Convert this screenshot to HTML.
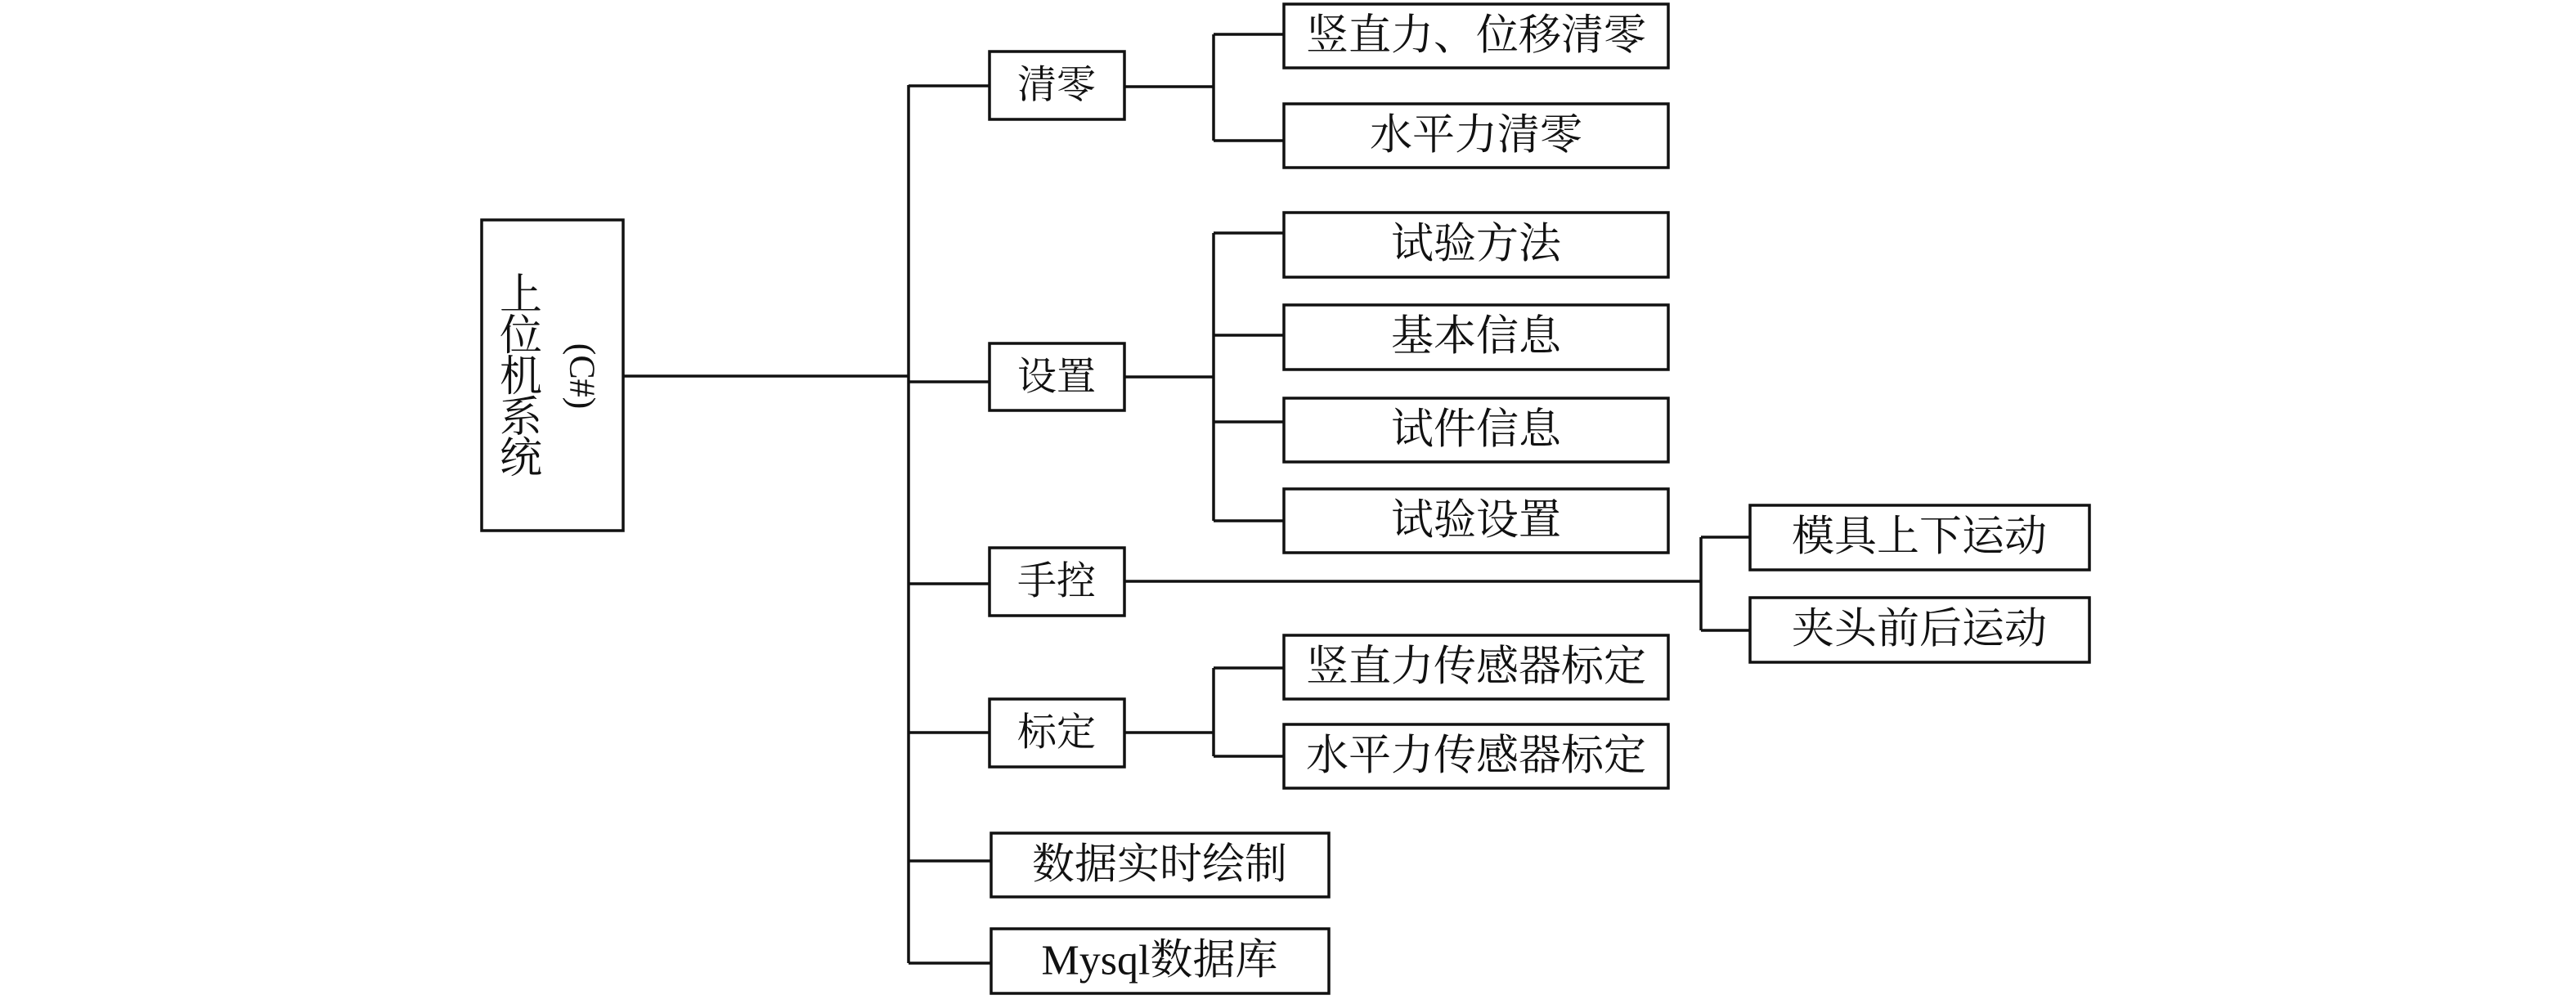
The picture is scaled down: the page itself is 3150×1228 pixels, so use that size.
<!DOCTYPE html>
<html><head><meta charset="utf-8"><style>
html,body{margin:0;padding:0;background:#fff;}
svg{display:block;}
text{font-family:"Liberation Serif","Noto Serif CJK SC",serif;font-size:52px;fill:#111;}
</style></head><body>
<svg width="3150" height="1228" viewBox="0 0 3150 1228" xmlns="http://www.w3.org/2000/svg">
<g fill="none" stroke="#111" stroke-width="3.5">
<rect x="589" y="269" width="173" height="380"/>
<line x1="762" y1="460" x2="1111" y2="460"/>
<line x1="1111" y1="104" x2="1111" y2="1178"/>
<rect x="1210" y="63" width="165" height="83"/>
<rect x="1210" y="420" width="165" height="82"/>
<rect x="1210" y="670" width="165" height="83"/>
<rect x="1210" y="855" width="165" height="83"/>
<rect x="1212" y="1019" width="413" height="78"/>
<rect x="1212" y="1136" width="413" height="79"/>
<line x1="1111" y1="105" x2="1210" y2="105"/>
<line x1="1111" y1="467" x2="1210" y2="467"/>
<line x1="1111" y1="714" x2="1210" y2="714"/>
<line x1="1111" y1="896" x2="1210" y2="896"/>
<line x1="1111" y1="1053" x2="1212" y2="1053"/>
<line x1="1111" y1="1178" x2="1212" y2="1178"/>
<line x1="1375" y1="106" x2="1484" y2="106"/>
<line x1="1484" y1="42" x2="1484" y2="172"/>
<line x1="1484" y1="42" x2="1570" y2="42"/>
<line x1="1484" y1="172" x2="1570" y2="172"/>
<rect x="1570" y="5" width="470" height="78"/>
<rect x="1570" y="127" width="470" height="78"/>
<line x1="1375" y1="461" x2="1484" y2="461"/>
<line x1="1484" y1="285" x2="1484" y2="637"/>
<line x1="1484" y1="285" x2="1570" y2="285"/>
<line x1="1484" y1="410" x2="1570" y2="410"/>
<line x1="1484" y1="516" x2="1570" y2="516"/>
<line x1="1484" y1="637" x2="1570" y2="637"/>
<rect x="1570" y="260" width="470" height="79"/>
<rect x="1570" y="373" width="470" height="79"/>
<rect x="1570" y="487" width="470" height="78"/>
<rect x="1570" y="598" width="470" height="78"/>
<line x1="1375" y1="711" x2="2080" y2="711"/>
<line x1="2080" y1="657" x2="2080" y2="771"/>
<line x1="2080" y1="657" x2="2140" y2="657"/>
<line x1="2080" y1="771" x2="2140" y2="771"/>
<rect x="2140" y="618" width="415" height="79"/>
<rect x="2140" y="731" width="415" height="79"/>
<line x1="1375" y1="896" x2="1484" y2="896"/>
<line x1="1484" y1="817" x2="1484" y2="925"/>
<line x1="1484" y1="817" x2="1570" y2="817"/>
<line x1="1484" y1="925" x2="1570" y2="925"/>
<rect x="1570" y="777" width="470" height="78"/>
<rect x="1570" y="886" width="470" height="78"/>
</g>
<g text-anchor="middle" style="font-size:50px">
<text x="637" y="378">上</text>
<text x="637" y="428">位</text>
<text x="637" y="478">机</text>
<text x="637" y="528">系</text>
<text x="637" y="578">统</text>
</g>
<text x="712" y="460" text-anchor="middle" dominant-baseline="central" transform="rotate(90 712 460)" style="font-size:44px">(C#)</text>
<g text-anchor="middle" dominant-baseline="central">
<text x="1292" y="104" style="font-size:48px">清零</text>
<text x="1292" y="461" style="font-size:48px">设置</text>
<text x="1292" y="711" style="font-size:48px">手控</text>
<text x="1292" y="896" style="font-size:48px">标定</text>
<text x="1418" y="1058">数据实时绘制</text>
<text x="1418" y="1175">Mysql数据库</text>
<text x="1805" y="44">竖直力、位移清零</text>
<text x="1805" y="166">水平力清零</text>
<text x="1805" y="299">试验方法</text>
<text x="1805" y="412">基本信息</text>
<text x="1805" y="526">试件信息</text>
<text x="1805" y="637">试验设置</text>
<text x="2347" y="657">模具上下运动</text>
<text x="2347" y="770">夹头前后运动</text>
<text x="1805" y="816">竖直力传感器标定</text>
<text x="1805" y="925">水平力传感器标定</text>
</g>
</svg>
</body></html>
